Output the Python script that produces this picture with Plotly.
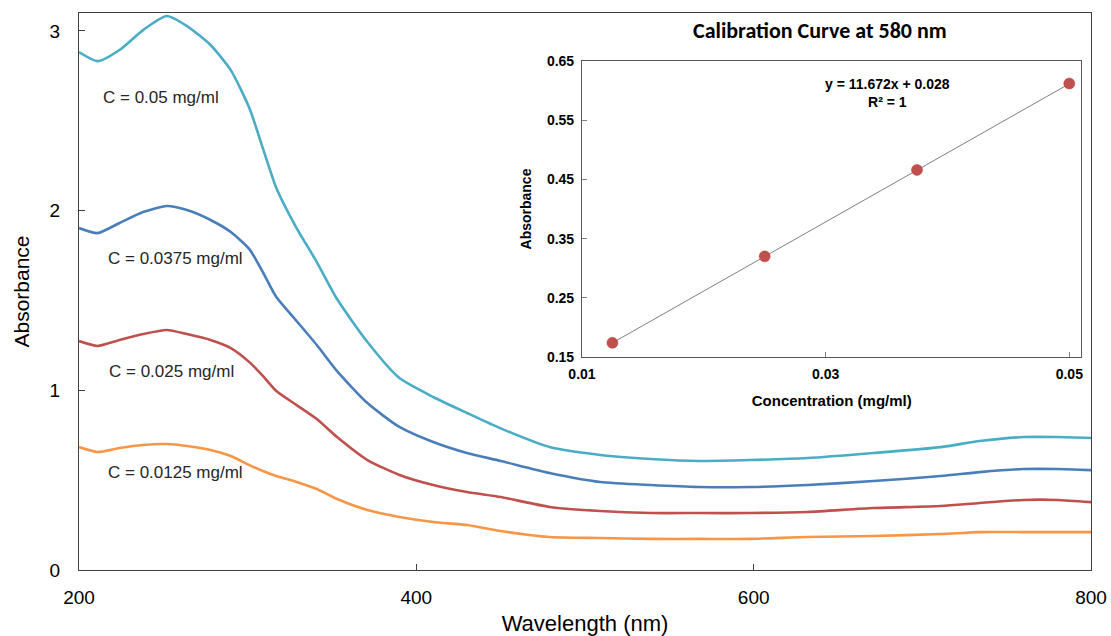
import plotly.graph_objects as go

# ---------------- data ----------------
wavelength = [200, 211, 224, 238, 252, 264, 278, 290, 301, 309, 317, 329, 341, 353,
              371, 390, 410, 430, 450, 479, 509, 539, 568, 598, 632, 671, 711, 734,
              760, 780, 800]

abs_c0500 = [2.883, 2.832, 2.894, 3.005, 3.083, 3.027, 2.922, 2.782, 2.571, 2.348,
             2.126, 1.903, 1.714, 1.508, 1.269, 1.068, 0.963, 0.874, 0.788, 0.684,
             0.640, 0.618, 0.607, 0.612, 0.623, 0.651, 0.684, 0.718, 0.740, 0.740, 0.735]
abs_c0375 = [1.903, 1.875, 1.931, 1.992, 2.026, 2.003, 1.948, 1.881, 1.786, 1.658,
             1.519, 1.386, 1.252, 1.107, 0.929, 0.796, 0.712, 0.651, 0.607, 0.540,
             0.490, 0.473, 0.462, 0.462, 0.473, 0.495, 0.523, 0.545, 0.562, 0.562, 0.556]
abs_c0250 = [1.274, 1.247, 1.280, 1.313, 1.336, 1.313, 1.280, 1.235, 1.157, 1.080,
             0.996, 0.918, 0.840, 0.740, 0.612, 0.529, 0.473, 0.434, 0.406, 0.351,
             0.328, 0.317, 0.317, 0.317, 0.323, 0.345, 0.356, 0.373, 0.390, 0.390, 0.378]
abs_c0125 = [0.684, 0.657, 0.679, 0.696, 0.701, 0.690, 0.668, 0.634, 0.584, 0.551,
             0.523, 0.490, 0.451, 0.395, 0.334, 0.295, 0.267, 0.250, 0.217, 0.184,
             0.178, 0.173, 0.173, 0.173, 0.184, 0.189, 0.200, 0.211, 0.211, 0.211, 0.211]

series_labels = ["C = 0.05 mg/ml", "C = 0.0375 mg/ml", "C = 0.025 mg/ml", "C = 0.0125 mg/ml"]
label_wavelength = [248.6, 257.5, 255.1, 257.5]
label_absorbance = [2.632, 1.731, 1.107, 0.545]

calib_conc = [0.0125, 0.025, 0.0375, 0.05]
calib_abs = [0.174, 0.320, 0.466, 0.612]
fit_slope = 11.672
fit_intercept = 0.028

main_xticks = [200, 400, 600, 800]
main_yticks = [0, 1, 2, 3]
inset_xticks = [0.01, 0.03, 0.05]
inset_yticks = [0.15, 0.25, 0.35, 0.45, 0.55, 0.65]

# ---------------- figure ----------------
colors = ["#4bacc6", "#4a7ebb", "#c0504d", "#f79646"]
series = [abs_c0500, abs_c0375, abs_c0250, abs_c0125]

fig = go.Figure()
for ys, col, name in zip(series, colors, series_labels):
    fig.add_trace(go.Scatter(x=wavelength, y=ys, mode="lines", name=name,
                             line=dict(color=col, width=2.6, shape="spline", smoothing=0.6),
                             showlegend=False, hoverinfo="skip"))

for txt, lx, ly in zip(series_labels, label_wavelength, label_absorbance):
    fig.add_annotation(x=lx, y=ly, xref="x", yref="y", text=txt, showarrow=False,
                       font=dict(family="Liberation Sans, Arial", size=17, color="#262626"))

# inset
fit_x = [calib_conc[0], calib_conc[-1]]
fit_y = [fit_slope * v + fit_intercept for v in fit_x]
fig.add_trace(go.Scatter(x=fit_x, y=fit_y, mode="lines", xaxis="x2", yaxis="y2",
                         line=dict(color="#7f7f7f", width=1), showlegend=False))
fig.add_trace(go.Scatter(x=calib_conc, y=calib_abs, mode="markers", xaxis="x2", yaxis="y2",
                         marker=dict(color="#c0504d", size=11,
                                     line=dict(color="#b0403d", width=0.5)),
                         showlegend=False))

fig.add_annotation(x=0.03505, y=0.596, xref="x2", yref="y2",
                   text=f"<b>y = {fit_slope}x + {fit_intercept}<br>R² = 1</b>",
                   showarrow=False, align="center",
                   font=dict(family="Liberation Sans, Arial", size=14, color="#000000"))

fig.add_annotation(x=0.7322, y=0.9677, xref="paper", yref="paper",
                   text="<b>Calibration Curve at 580 nm</b>", showarrow=False,
                   xanchor="center", yanchor="middle",
                   font=dict(family="Carlito, Lato, sans-serif", size=22, color="#000000"))

# white background behind inset
fig.add_shape(type="rect", xref="paper", yref="paper", x0=0.4486, x1=0.999, y0=0.27, y1=0.999,
              fillcolor="white", line=dict(width=0), layer="below")

axis_font = dict(family="Liberation Sans, Arial", size=19, color="#000000")
inset_tick_font = dict(family="Liberation Sans Narrow, Liberation Sans, Arial", size=14,
                       color="#000000", weight="bold")

fig.update_layout(
    width=1111, height=636,
    margin=dict(l=79, r=20, t=13, b=66),
    paper_bgcolor="white", plot_bgcolor="white",
    font=dict(family="Liberation Sans, Arial", color="#000000"),
    xaxis=dict(range=[200, 800], tickvals=main_xticks, ticks="inside", ticklen=6,
               tickcolor="#404040", showline=True, linecolor="#404040", linewidth=1.3,
               mirror=True, showgrid=False, zeroline=False, tickfont=axis_font,
               ticklabelstandoff=10, automargin=False,
               title=dict(text="Wavelength (nm)",
                          font=dict(family="Liberation Sans, Arial", size=22, color="#000000"),
                          standoff=8)),
    yaxis=dict(range=[0, 3.1], tickvals=main_yticks, ticks="inside", ticklen=6,
               tickcolor="#404040", showline=True, linecolor="#404040", linewidth=1.3,
               mirror=True, showgrid=False, zeroline=False, tickfont=axis_font,
               ticklabelstandoff=14, automargin=False,
               title=dict(text="Absorbance",
                          font=dict(family="Liberation Sans, Arial", size=21, color="#000000"),
                          standoff=14)),
    xaxis2=dict(domain=[0.497, 0.9906], anchor="y2", range=[0.01, 0.051],
                tickvals=inset_xticks, tickformat=".2f", ticks="inside", ticklen=5,
                tickcolor="#7f7f7f", showline=True, linecolor="#595959", linewidth=1,
                mirror=True, showgrid=False, zeroline=False, automargin=False,
                tickfont=inset_tick_font, ticklabelstandoff=4,
                title=dict(text="<b>Concentration (mg/ml)</b>",
                           font=dict(family="Liberation Sans, Arial", size=15, color="#000000"),
                           standoff=14)),
    yaxis2=dict(domain=[0.3824, 0.9138], anchor="x2", range=[0.15, 0.65],
                tickvals=inset_yticks, tickformat=".2f", ticks="inside", ticklen=5,
                tickcolor="#7f7f7f", showline=True, linecolor="#595959", linewidth=1,
                mirror=True, showgrid=False, zeroline=False, automargin=False,
                tickfont=inset_tick_font, ticklabelstandoff=4,
                title=dict(text="<b>Absorbance</b>",
                           font=dict(family="Liberation Sans, Arial", size=14, color="#000000"),
                           standoff=12)),
)

fig.write_html("out.html")
